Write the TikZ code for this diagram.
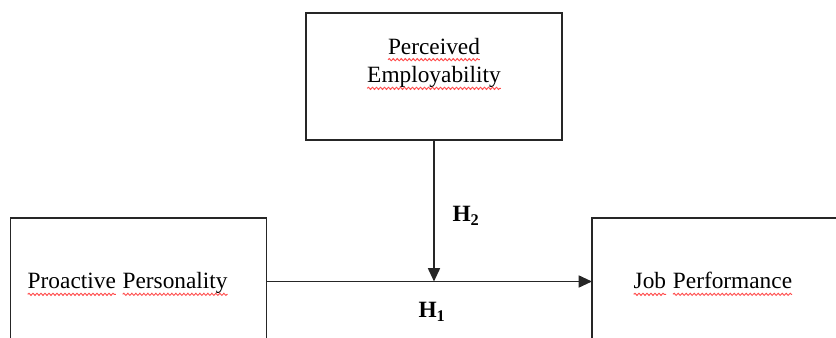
\documentclass[tikz,border=0pt]{standalone}
\usepackage{fontspec}
\setmainfont{Liberation Serif}
\usetikzlibrary{arrows.meta,decorations.pathmorphing}

% red spell-check wave under a word
\newcommand\spellwave[1]{\tikz[baseline=(w.base)]{\node[inner sep=0pt,outer sep=0pt] (w) {#1};
  \draw[red!70, line width=0.7pt, decorate, decoration={snake, amplitude=0.8pt, segment length=3pt}]
    ([yshift=-4pt]w.base west) -- ([yshift=-4pt]w.base east);}}

\begin{document}
\begin{tikzpicture}[x=0.75pt,y=-0.75pt,
  box/.style={draw=black!85, line width=1.3pt, inner sep=0pt, outer sep=0pt,
    minimum width=192pt, minimum height=95.25pt},
  txt/.style={inner sep=0pt, font=\fontsize{17.5}{21.5}\selectfont},
  hyp/.style={inner sep=0pt, font=\fontsize{17.5}{20}\selectfont\bfseries},
  arr/.style={draw=black!85, line width=1.3pt, -{Triangle[length=10pt,width=9pt]}}]

  \useasboundingbox (0,0) rectangle (836,338);
  \clip (0,0) rectangle (836,338);

  % Kaesten
  \node[box] (empl) at (434,76.5) {};
  \node[box] (proact) at (138.5,281.5) {};
  \node[box] (perf) at (720,281.5) {};

  \node[txt, align=center] (empltxt) at (434,64) {\spellwave{Perceived}\\\spellwave{Employability}};
  \node[txt, anchor=base west] (proacttxt) at (27,289) {\spellwave{Proactive} \spellwave{Personality}};
  \node[txt, anchor=base west] (perftxt) at (633,289) {\spellwave{Job} \spellwave{Performance}};

  % Pfeile
  \coordinate (meet) at (empl.south |- proact.east);
  \draw[arr] (proact.east) -- (perf.west);
  \draw[arr] (empl.south) -- (meet);

  \node[hyp] (h2) at (466,216) {H\textsubscript{2}};
  \node[hyp] (h1) at (432,312) {H\textsubscript{1}};

\end{tikzpicture}
\end{document}
